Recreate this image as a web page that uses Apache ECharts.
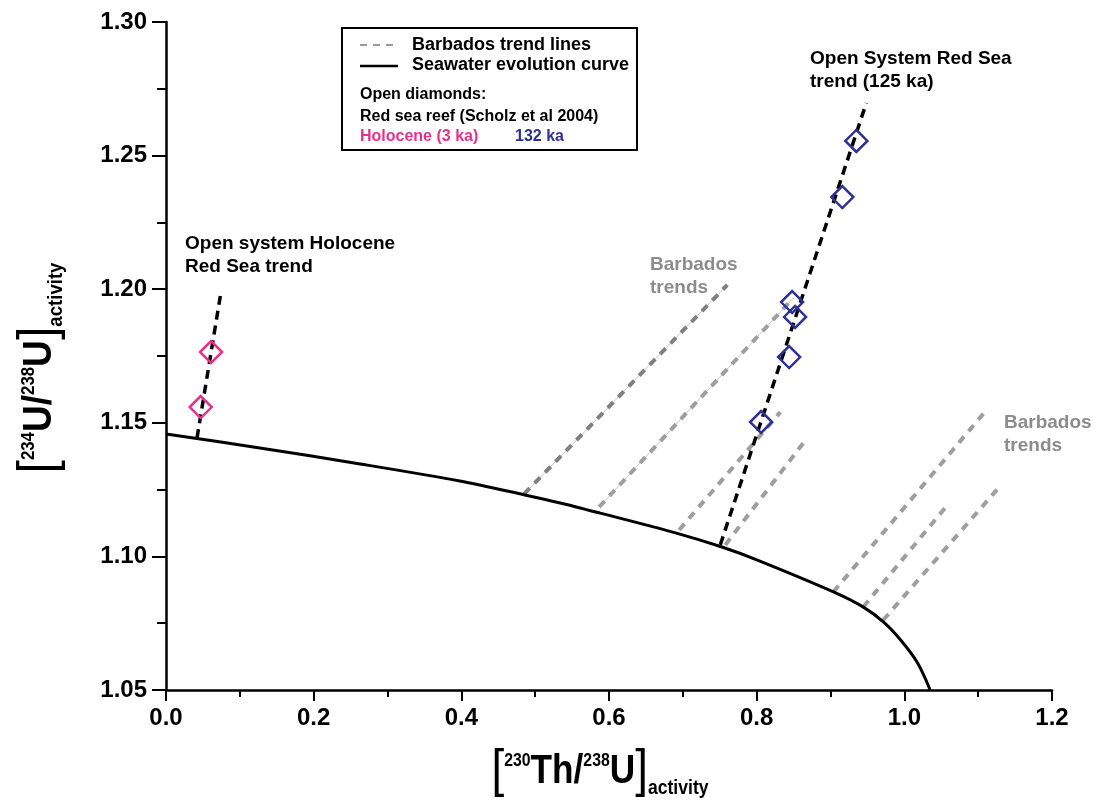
<!DOCTYPE html>
<html>
<head>
<meta charset="utf-8">
<style>
  html, body { margin: 0; padding: 0; background: #fff; }
  #chart { width: 1098px; height: 808px; }
</style>
<script src="https://cdn.jsdelivr.net/npm/echarts@6/dist/echarts.min.js"></script>
</head>
<body>
<div id="chart"></div>
<script>
// seawater evolution curve
const curveX = [0, 0.127, 0.263, 0.398, 0.486, 0.534, 0.588, 0.690, 0.753, 0.801, 0.904, 0.944, 0.972, 0.995, 1.018, 1.035];
const curveY = [1.1458, 1.1406, 1.1346, 1.1282, 1.1230, 1.1200, 1.1162, 1.1088, 1.1035, 1.0986, 1.0867, 1.0811, 1.0754, 1.0687, 1.0601, 1.050];

// Red Sea reef diamonds
const holoX = [0.047, 0.061];
const holoY = [1.1559, 1.1765];
const redX = [0.935, 0.916, 0.848, 0.852, 0.844, 0.806];
const redY = [1.2555, 1.2345, 1.1952, 1.1896, 1.1746, 1.1503];

// open system trends (start, end)
const holoTrendX = [0.042, 0.0745];
const holoTrendY = [1.1443, 1.199];
const redTrendX = [0.7507, 0.9485];
const redTrendY = [1.1043, 1.2697];

// Barbados trend lines (start on curve, end)
const barbX0 = [0.4851, 0.5867, 0.6951, 0.7575, 0.9038, 0.9444, 0.9715];
const barbY0 = [1.1234, 1.1185, 1.1099, 1.1043, 1.0867, 1.0811, 1.0762];
const barbX1 = [0.7602, 0.8496, 0.832, 0.8631, 1.1125, 1.0583, 1.1287];
const barbY1 = [1.2016, 1.1967, 1.154, 1.1424, 1.1552, 1.1192, 1.126];
const barbThin = [true, true, false, false, false, false, false];

const zip = (xs, ys) => xs.map((x, i) => [x, ys[i]]);

const chart = echarts.init(document.getElementById('chart'));

const FONT = '"Liberation Sans", Arial, sans-serif';
const PINK = '#e8308a';
const BLUE = '#2e3192';

let series = [];

// Barbados trends
barbX0.forEach((x0, i) => {
  let pts = [[x0, barbY0[i]], [barbX1[i], barbY1[i]]];
  if (barbThin[i]) {
    series.push({
      type: 'line', data: pts, symbol: 'none', z: 1, silent: true,
      lineStyle: { color: '#c8c8c8', width: 1 }
    });
  }
  series.push({
    type: 'line', data: pts, symbol: 'none', z: 2, silent: true,
    lineStyle: { color: i === 0 ? '#808080' : '#9e9e9e', width: 4, type: [8, 7] }
  });
});

// seawater curve
series.push({
  type: 'line', data: zip(curveX, curveY), symbol: 'none', smooth: 0.3, z: 3,
  lineStyle: { color: '#000', width: 3 }
});

// open system trends
[[holoTrendX, holoTrendY], [redTrendX, redTrendY]].forEach(t => {
  series.push({
    type: 'line', data: zip(t[0], t[1]), symbol: 'none', z: 4,
    lineStyle: { color: '#000', width: 3.5, type: [9, 6] }
  });
});

// diamonds
[[holoX, holoY, PINK], [redX, redY, BLUE]].forEach(d => {
  series.push({
    type: 'scatter', data: zip(d[0], d[1]), symbol: 'diamond', symbolSize: 22, z: 5,
    itemStyle: { color: 'rgba(0,0,0,0)', borderColor: d[2], borderWidth: 2.5, opacity: 1 }
  });
});

const titleRich = {
  b: { fontFamily: FONT, fontSize: 52, fontWeight: 'normal', color: '#000' },
  sup: { fontFamily: FONT, fontSize: 18, fontWeight: 'bold', color: '#000', verticalAlign: 'top', padding: [6, 0, 0, 0] },
  m: { fontFamily: FONT, fontSize: 40, fontWeight: 'bold', color: '#000' },
  sub: { fontFamily: FONT, fontSize: 20, fontWeight: 'bold', color: '#000', verticalAlign: 'bottom' }
};

function label(x, y, text, color, size) {
  return {
    type: 'text', left: x, top: y, silent: true,
    style: { text: text, fill: color || '#000', font: 'bold ' + (size || 19) + 'px ' + FONT, lineHeight: 23 }
  };
}

const option = {
  animation: false,
  backgroundColor: '#fff',
  grid: { left: 166, right: 46, top: 22, bottom: 118, containLabel: false },
  xAxis: {
    type: 'value', min: 0, max: 1.2, interval: 0.2,
    axisLine: { lineStyle: { color: '#000', width: 2.5 } },
    axisTick: { length: 11, lineStyle: { color: '#000', width: 2 } },
    minorTick: { show: true, splitNumber: 2, length: 7, lineStyle: { color: '#000', width: 2 } },
    splitLine: { show: false },
    axisLabel: { formatter: v => v.toFixed(1), color: '#000', fontFamily: FONT, fontWeight: 'bold', fontSize: 24, margin: 16 }
  },
  yAxis: {
    type: 'value', min: 1.05, max: 1.30, interval: 0.05,
    axisLine: { show: true, lineStyle: { color: '#000', width: 2.5 } },
    axisTick: { show: true, length: 14, lineStyle: { color: '#000', width: 2 } },
    minorTick: { show: true, splitNumber: 2, length: 9, lineStyle: { color: '#000', width: 2 } },
    splitLine: { show: false },
    axisLabel: { formatter: v => v.toFixed(2), color: '#000', fontFamily: FONT, fontWeight: 'bold', fontSize: 24, margin: 19 }
  },
  graphic: [
    // axis titles (squeezed to look like the narrow face of the original)
    {
      type: 'text', x: 600, y: 772, scaleX: 0.88, silent: true,
      style: { text: '{b|[}{sup|230}{m|Th/}{sup|238}{m|U}{b|]}{sub|activity}', rich: titleRich, align: 'center', verticalAlign: 'middle' }
    },
    {
      type: 'text', x: 40, y: 368, rotation: Math.PI / 2, scaleX: 0.93, silent: true,
      style: { text: '{b|[}{sup|234}{m|U/}{sup|238}{m|U}{b|]}{sub|activity}', rich: titleRich, align: 'center', verticalAlign: 'middle' }
    },
    // legend box
    {
      type: 'rect', shape: { x: 342, y: 28, width: 295, height: 122 }, silent: true,
      style: { fill: '#fff', stroke: '#000', lineWidth: 2 }, z: 10
    },
    { type: 'line', shape: { x1: 360, y1: 45, x2: 398, y2: 45 }, z: 11, silent: true,
      style: { stroke: '#999', lineWidth: 2, lineDash: [7, 6] } },
    { type: 'line', shape: { x1: 360, y1: 66, x2: 398, y2: 66 }, z: 11, silent: true,
      style: { stroke: '#000', lineWidth: 2.5 } },
    Object.assign(label(412, 34, 'Barbados trend lines', '#000', 18), { z: 11 }),
    Object.assign(label(412, 54, 'Seawater evolution curve', '#000', 18), { z: 11 }),
    Object.assign(label(360, 83, 'Open diamonds:', '#000', 16), { z: 11 }),
    Object.assign(label(360, 105, 'Red sea reef (Scholz et al 2004)', '#000', 16), { z: 11 }),
    Object.assign(label(360, 125, 'Holocene (3 ka)', PINK, 16), { z: 11 }),
    Object.assign(label(515, 125, '132 ka', BLUE, 16), { z: 11 }),
    // annotations
    label(185, 232, 'Open system Holocene\nRed Sea trend'),
    label(650, 253, 'Barbados\ntrends', '#8c8c8c'),
    label(810, 47, 'Open System Red Sea\ntrend (125 ka)'),
    label(1004, 411, 'Barbados\ntrends', '#8c8c8c')
  ],
  series: series
};

chart.setOption(option);
</script>
</body>
</html>
